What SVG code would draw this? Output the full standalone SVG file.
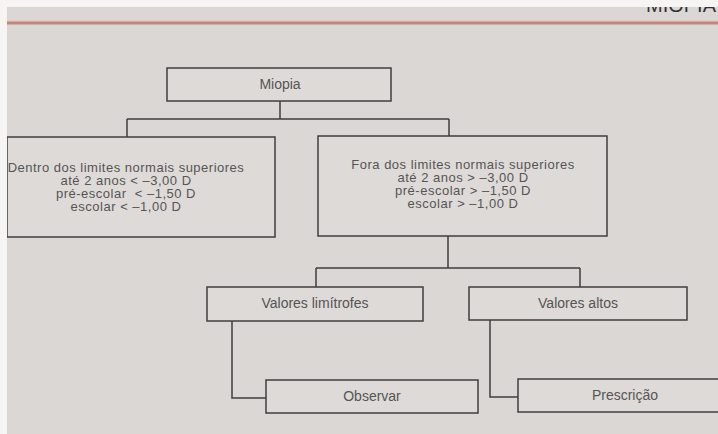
<svg xmlns="http://www.w3.org/2000/svg" width="718" height="434" viewBox="0 0 718 434">
  <style>
    .box { fill: #dedad7; stroke: #3f3f3f; stroke-width: 1.5; }
    .conn { fill: none; stroke: #3f3f3f; stroke-width: 1.5; }
    .t { font-family: "Liberation Sans", Arial, sans-serif; font-size: 14px; fill: #555; text-anchor: middle; }
    .m { font-family: "Liberation Sans", Arial, sans-serif; font-size: 13px; letter-spacing: 0.5px; fill: #555; text-anchor: middle; }
    .hdr { font-family: "Liberation Sans", Arial, sans-serif; font-size: 20px; fill: #333; }
  </style>
  <rect x="0" y="0" width="718" height="434" fill="#dbd7d4"/>
  <text class="hdr" x="646" y="12">MIOPIA</text>
  <line x1="7" y1="23" x2="718" y2="23" stroke="#c0857d" stroke-width="3"/>
  <line x1="7" y1="20.5" x2="718" y2="20.5" stroke="#e2c9c2" stroke-width="1"/>

  <g id="connectors">
    <path class="conn" d="M280 101 V119 M127 119 H449 M127 119 V137 M449 119 V136"/>
    <path class="conn" d="M448 236 V268 M316 268 H580 M316 268 V287 M580 268 V287"/>
    <path class="conn" d="M232 321 V398 H266"/>
    <path class="conn" d="M490 320 V397 H518"/>
  </g>

  <g id="miopia">
    <rect class="box" x="167" y="68" width="224" height="33"/>
    <text class="t" x="280" y="89">Miopia</text>
  </g>

  <g id="dentro">
    <rect class="box" x="7" y="137" width="268" height="100"/>
    <text class="m" x="126" y="172">Dentro dos limites normais superiores</text>
    <text class="m" x="126" y="185">até 2 anos &lt; –3,00 D</text>
    <text class="m" x="126" y="198" xml:space="preserve">pré-escolar  &lt; –1,50 D</text>
    <text class="m" x="126" y="211">escolar &lt; –1,00 D</text>
  </g>

  <g id="fora">
    <rect class="box" x="318" y="136" width="289" height="100"/>
    <text class="m" x="463" y="169">Fora dos limites normais superiores</text>
    <text class="m" x="463" y="182">até 2 anos &gt; –3,00 D</text>
    <text class="m" x="463" y="195">pré-escolar &gt; –1,50 D</text>
    <text class="m" x="463" y="208">escolar &gt; –1,00 D</text>
  </g>

  <g id="limitrofes">
    <rect class="box" x="207" y="287" width="216" height="34"/>
    <text class="t" x="315" y="308">Valores limítrofes</text>
  </g>

  <g id="altos">
    <rect class="box" x="469" y="287" width="218" height="33"/>
    <text class="t" x="578" y="308">Valores altos</text>
  </g>

  <g id="observar">
    <rect class="box" x="266" y="380" width="212" height="33"/>
    <text class="t" x="372" y="401">Observar</text>
  </g>

  <g id="prescricao">
    <rect class="box" x="518" y="379" width="214" height="33"/>
    <text class="t" x="625" y="400">Prescrição</text>
  </g>

  <rect x="0" y="0" width="718" height="7" fill="#f6f5f4"/>
  <rect x="0" y="0" width="7" height="434" fill="#f6f5f4"/>
</svg>
